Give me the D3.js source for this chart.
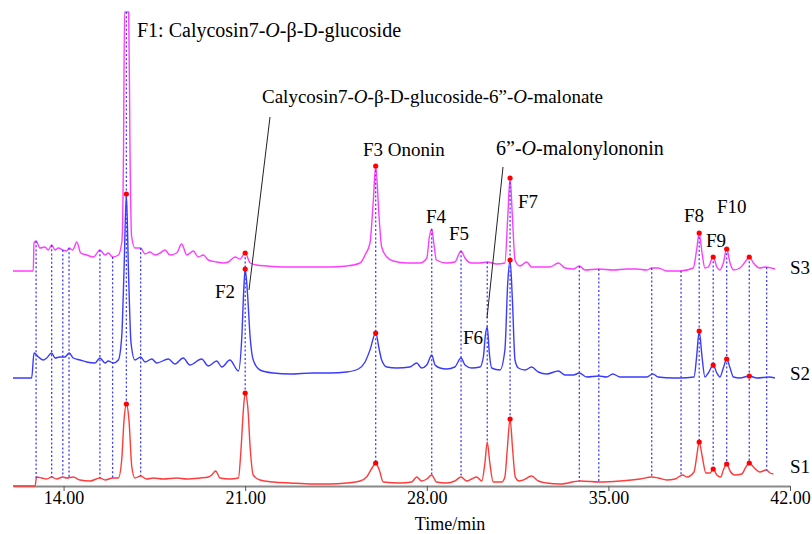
<!DOCTYPE html>
<html>
<head>
<meta charset="utf-8">
<script src="https://cdn.jsdelivr.net/npm/d3@7"></script>
<style>
    body { margin: 0; background: #fff; }
    svg { display: block; }
</style>
</head>
<body>
<svg id="chart" width="812" height="534" style="font-family: 'Liberation Serif', serif"></svg>
<script>
// time axis (min)
var timeDomain = [12.05, 42];
var tickValues = [14, 21, 28, 35, 42];

// traces: [time, response above own baseline]
var traceNames = ['S1', 'S2', 'S3'];
var traceOffsets = [0, 108, 215];

var s1 = [
    [12.05, 0], [12.90, 0], [12.96, 9], [13.16, 8], [13.35, 7], [13.54, 9], [13.73, 7], [13.97, 9], [14.12, 8],
    [14.37, 9], [14.63, 6], [15.02, 5], [15.40, 8], [15.60, 6], [15.89, 8], [16.11, 8], [16.24, 26], [16.33, 66],
    [16.42, 82], [16.52, 66], [16.63, 19], [16.75, 8], [16.97, 10], [17.20, 7], [17.46, 8], [17.84, 7], [18.36, 8],
    [18.75, 7], [19.26, 8], [19.58, 9], [19.71, 11], [19.86, 15], [20.03, 8], [20.41, 7], [20.74, 8], [20.83, 33],
    [20.93, 76], [21.00, 93], [21.10, 79], [21.19, 39], [21.31, 11], [21.57, 6], [22.08, 4], [22.73, 3], [23.61, 2],
    [24.27, 2], [24.91, 3], [25.43, 5], [25.68, 9], [25.89, 18], [26.03, 23], [26.17, 16], [26.32, 4], [26.97, 3],
    [27.42, 4], [27.61, 9], [27.80, 5], [28.00, 7], [28.19, 11], [28.37, 4], [28.76, 3], [29.08, 5], [29.32, 9],
    [29.54, 5], [29.73, 7], [29.92, 9], [30.12, 5], [30.24, 23], [30.33, 44], [30.43, 23], [30.56, 4], [30.89, 4],
    [31.01, 9], [31.10, 36], [31.21, 67], [31.31, 36], [31.41, 9], [31.55, 5], [31.72, 6], [32.04, 10], [32.30, 5],
    [32.62, 3], [33.14, 2], [33.91, 5], [34.68, 4], [35.45, 5], [36.22, 7], [36.67, 9], [36.92, 8], [37.25, 6],
    [37.57, 7], [37.87, 11], [38.02, 9], [38.30, 14], [38.40, 29], [38.50, 44], [38.62, 29], [38.76, 13], [38.92, 13],
    [39.04, 17], [39.18, 11], [39.33, 9], [39.43, 16], [39.56, 22], [39.69, 15], [39.88, 11], [40.14, 12], [40.30, 19],
    [40.43, 23], [40.59, 19], [40.84, 14], [41.08, 16], [41.23, 13], [41.36, 12]
];

var s2 = [
    [12.05, 0], [12.77, 0], [12.86, 25], [13.03, 21], [13.22, 18], [13.35, 20], [13.54, 25], [13.67, 20], [13.86, 21],
    [14.05, 21], [14.22, 25], [14.37, 20], [14.63, 18], [14.89, 16], [15.21, 15], [15.40, 20], [15.60, 15], [15.72, 17],
    [15.92, 15], [16.11, 18], [16.24, 41], [16.33, 108], [16.42, 184], [16.50, 108], [16.60, 35], [16.75, 18],
    [16.97, 21], [17.14, 16], [17.40, 19], [17.59, 15], [18.04, 19], [18.29, 14], [18.61, 20], [18.87, 13], [19.32, 19],
    [19.58, 12], [19.90, 17], [20.10, 11], [20.41, 18], [20.74, 7], [20.87, 41], [20.95, 91], [21.00, 109], [21.08, 88],
    [21.19, 41], [21.31, 18], [21.57, 8], [22.08, 5], [22.73, 4], [23.61, 5], [24.27, 5], [24.91, 6], [25.36, 9],
    [25.62, 16], [25.81, 28], [26.03, 45], [26.17, 28], [26.26, 18], [26.46, 11], [26.84, 10], [27.35, 11], [27.61, 15],
    [27.80, 10], [28.00, 13], [28.19, 23], [28.32, 13], [28.51, 10], [28.76, 9], [29.08, 11], [29.32, 20], [29.47, 13],
    [29.73, 10], [30.05, 11], [30.18, 21], [30.26, 43], [30.33, 51], [30.41, 25], [30.50, 10], [30.82, 8], [31.01, 28],
    [31.12, 95], [31.21, 118], [31.30, 78], [31.40, 18], [31.53, 10], [31.79, 8], [32.04, 11], [32.30, 6], [32.62, 4],
    [33.07, 7], [33.33, 3], [33.65, 3], [33.88, 5], [34.16, 1], [34.63, 2], [34.93, 1], [35.17, 4], [35.45, 1],
    [35.96, 1], [36.48, 1], [36.71, 4], [36.92, 1], [37.50, 0], [37.76, 0], [38.30, 1], [38.40, 21], [38.50, 47],
    [38.61, 21], [38.72, 1], [38.85, 5], [39.04, 13], [39.18, 5], [39.30, 1], [39.43, 10], [39.56, 19], [39.69, 10],
    [39.82, 1], [40.07, 0], [40.43, 2], [40.72, 0], [41.20, 1], [41.42, 0]
];

var s3 = [
    [12.05, 0], [12.83, 0], [12.86, 28], [12.94, 30], [13.09, 23], [13.28, 24], [13.41, 21], [13.54, 26], [13.67, 21],
    [13.80, 23], [13.97, 21], [14.12, 20], [14.21, 23], [14.35, 21], [14.51, 29], [14.66, 18], [14.89, 16], [15.15, 14],
    [15.40, 21], [15.60, 16], [15.72, 18], [15.89, 14], [16.11, 16], [16.25, 30], [16.31, 120], [16.35, 259],
    [16.51, 259], [16.56, 120], [16.62, 35], [16.75, 23], [16.97, 23], [17.14, 17], [17.33, 19], [17.52, 16],
    [17.72, 18], [17.91, 21], [18.10, 16], [18.36, 18], [18.55, 27], [18.75, 16], [19.00, 20], [19.19, 14], [19.39, 16],
    [19.58, 11], [19.90, 9], [20.16, 8], [20.35, 9], [20.61, 14], [20.80, 12], [21.00, 18], [21.19, 8], [21.44, 6],
    [21.83, 5], [22.60, 4], [23.11, 4], [23.61, 4], [24.27, 4], [24.91, 5], [25.43, 8], [25.62, 16], [25.81, 28],
    [25.94, 71], [26.03, 105], [26.16, 54], [26.26, 24], [26.46, 14], [26.71, 10], [27.23, 8], [27.74, 8], [28.00, 13],
    [28.10, 34], [28.19, 42], [28.27, 28], [28.37, 11], [28.76, 8], [29.08, 9], [29.32, 20], [29.47, 13], [29.73, 8],
    [30.05, 8], [30.33, 9], [30.70, 7], [31.01, 8], [31.12, 54], [31.21, 93], [31.30, 54], [31.40, 11], [31.59, 5],
    [31.85, 9], [32.04, 4], [32.36, 4], [32.75, 4], [33.07, 8], [33.33, 3], [33.65, 2], [33.88, 5], [34.10, 1],
    [34.63, 2], [35.19, 1], [35.71, 2], [36.09, 2], [36.48, 1], [36.67, 3], [36.92, 3], [37.25, 0], [37.76, 0],
    [38.27, 3], [38.40, 21], [38.50, 38], [38.61, 18], [38.72, 3], [38.85, 4], [39.04, 14], [39.18, 4], [39.30, 1],
    [39.43, 8], [39.56, 22], [39.69, 8], [39.82, 1], [40.07, 3], [40.27, 9], [40.43, 14], [40.59, 8], [40.84, 3],
    [41.04, 4], [41.42, 2]
];

// peaks matched across samples (dotted lines) and marked peaks (red dots)
var alignTimes = [12.94, 13.54, 13.97, 14.21, 15.40, 15.89, 16.42, 16.97, 21.00, 26.03, 28.19, 29.32, 30.33,
    31.21, 33.88, 34.63, 36.67, 37.80, 38.50, 39.04, 39.56, 40.43, 41.10];
var markedTimes = [16.42, 21.00, 26.03, 31.21, 38.50, 39.04, 39.56, 40.43];
var markedTimesS3 = [21.00, 26.03, 31.21, 38.50, 39.04, 39.56, 40.43];

// peak names, *...* = italic
var peakNames = ['F1: Calycosin7-*O*-β-D-glucoside', 'Calycosin7-*O*-β-D-glucoside-6”-*O*-malonate',
    'F3 Ononin', '6”-*O*-malonylononin', 'F2', 'F4', 'F5', 'F6', 'F7', 'F8', 'F9', 'F10'];

var FONT = "'Liberation Serif', serif";

var svg = d3.select('#chart');
var x = d3.scaleLinear().domain(timeDomain).range([13, 790]);
var y = d3.scaleLinear().domain([0, 480]).range([486, 6]);

var series = [s1, s2, s3];
var colors = ['#ff3b3b', '#3b3bff', '#ff3dff'];

function valueAt(data, t) {
    var i = d3.bisector(function (d) { return d[0]; }).left(data, t);
    if (i <= 0) return data[0][1];
    if (i >= data.length) return data[data.length - 1][1];
    var a = data[i - 1], b = data[i];
    if (b[0] === t) return b[1];
    return a[1] + (b[1] - a[1]) * (t - a[0]) / (b[0] - a[0]);
}

function serif(sel, size) {
    sel.style('font-family', FONT)
        .style('font-size', size + 'px');
    return sel;
}

//////////////////////   AXIS    //////////////////////

var axis = d3.axisBottom(x)
    .tickValues(tickValues)
    .tickFormat(d3.format('.2f'))
    .tickSize(5)
    .tickSizeOuter(0)
    .tickPadding(0);

var gAxis = svg.append('g')
    .attr('transform', 'translate(0,' + y(0) + ')')
    .call(axis)
    .attr('font-family', null)
    .attr('font-size', null);
gAxis.select('.domain').attr('stroke', '#8a8a8a').attr('stroke-width', 1.8);
gAxis.selectAll('.tick line').attr('stroke', '#555');
gAxis.selectAll('.tick text').attr('fill', '#000').call(serif, 18);

svg.append('text')
    .attr('x', 450)
    .attr('y', 530)
    .attr('text-anchor', 'middle')
    .call(serif, 18)
    .text('Time/min');

//////////////////////   TRACES    //////////////////////

series.forEach(function (data, k) {
    var line = d3.line()
        .x(function (d) { return x(d[0]); })
        .y(function (d) { return y(d[1] + traceOffsets[k]); })
        .curve(d3.curveMonotoneX);

    svg.append('path')
        .datum(data)
        .attr('d', line)
        .attr('fill', 'none')
        .attr('stroke', colors[k])
        .attr('stroke-width', 1.4)
        .attr('stroke-linejoin', 'round');
});

// dotted alignment lines from S3 down to S1
svg.append('g')
    .selectAll('line')
    .data(alignTimes)
    .enter()
    .append('line')
    .attr('x1', function (t) { return x(t); })
    .attr('x2', function (t) { return x(t); })
    .attr('y1', function (t) { return y(valueAt(s3, t) + traceOffsets[2]); })
    .attr('y2', function (t) { return y(valueAt(s1, t)); })
    .attr('stroke', '#3d3dff')
    .attr('stroke-width', 1.3)
    .attr('stroke-dasharray', '2,2.2');

// red peak markers
var dots = [];
markedTimes.forEach(function (t) {
    dots.push({t: t, v: valueAt(s1, t)});
    dots.push({t: t, v: valueAt(s2, t) + traceOffsets[1]});
});
markedTimesS3.forEach(function (t) {
    dots.push({t: t, v: valueAt(s3, t) + traceOffsets[2]});
});

svg.append('g')
    .selectAll('circle')
    .data(dots)
    .enter()
    .append('circle')
    .attr('cx', function (d) { return x(d.t); })
    .attr('cy', function (d) { return y(d.v); })
    .attr('r', 2.6)
    .attr('fill', '#ff0000');

//////////////////////   LABELS    //////////////////////

svg.selectAll('text.trace')
    .data(traceNames)
    .enter()
    .append('text')
    .attr('class', 'trace')
    .attr('x', 790)
    .attr('y', function (d, k) { return [473, 380, 274][k]; })
    .call(serif, 19)
    .text(function (d) { return d; });

// [x, baseline, size] for each peak name
var labelLayout = [[137, 37, 20], [262, 103, 19], [363, 156, 19], [496, 155, 20], [215, 298, 19], [426, 223, 19],
    [449, 240, 19], [463, 344, 19], [518, 208, 19], [684, 222, 19], [706, 247, 19], [717, 213, 19]];

peakNames.forEach(function (name, k) {
    var t = svg.append('text')
        .attr('x', labelLayout[k][0])
        .attr('y', labelLayout[k][1])
        .call(serif, labelLayout[k][2]);
    name.split('*').forEach(function (part, j) {
        t.append('tspan')
            .style('font-style', j % 2 ? 'italic' : 'normal')
            .text(part);
    });
});

// leader lines to F2 and F6
var leaders = [[[270, 117], [249, 290]], [[503, 167], [487, 318]]];
svg.selectAll('line.leader')
    .data(leaders)
    .enter()
    .append('line')
    .attr('class', 'leader')
    .attr('x1', function (d) { return d[0][0]; })
    .attr('y1', function (d) { return d[0][1]; })
    .attr('x2', function (d) { return d[1][0]; })
    .attr('y2', function (d) { return d[1][1]; })
    .attr('stroke', '#222')
    .attr('stroke-width', 1);
</script>
</body>
</html>
